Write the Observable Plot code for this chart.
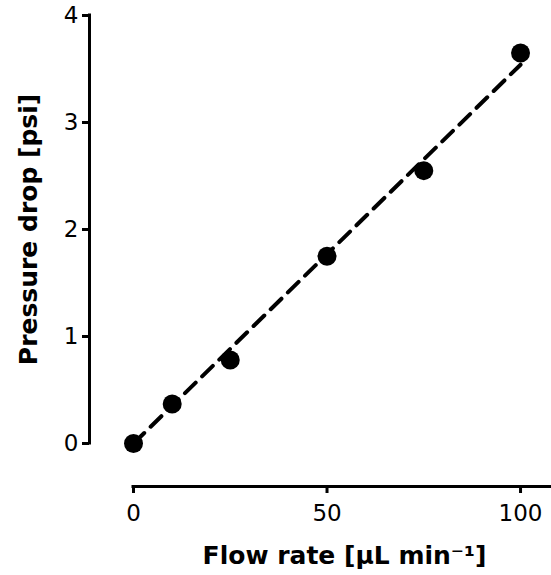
<!DOCTYPE html>
<html><head><meta charset="utf-8">
<script src="https://cdn.jsdelivr.net/npm/d3@7"></script>
<script src="https://cdn.jsdelivr.net/npm/@observablehq/plot@0.6"></script>
<style>body{margin:0;background:#fff} svg{display:block}</style>
</head><body><div id="chart"></div>
<script>
const flowRate = [0, 10, 25, 50, 75, 100];
const pressureDrop = [0, 0.37, 0.78, 1.75, 2.55, 3.65];
const fitFlow = [0, 100];
const fitPressure = [0, 3.54];
const xTicks = [0, 50, 100];
const yTicks = [0, 1, 2, 3, 4];
const xDomain = [0, 108];
const yDomain = [0, 4];
const xLabel = "Flow rate [µL min⁻¹]";
const yLabel = "Pressure drop [psi]";

const points = flowRate.map((x, i) => ({x, y: pressureDrop[i]}));
const fit = fitFlow.map((x, i) => ({x, y: fitPressure[i]}));

const font = "'DejaVu Sans', sans-serif";
const plot = Plot.plot({
  width: 551, height: 575,
  marginLeft: 133, marginRight: 0, marginTop: 15, marginBottom: 132,
  style: {fontFamily: font, fontSize: "23px", color: "#000", background: "#fff", overflow: "visible"},
  x: {domain: xDomain},
  y: {domain: yDomain},
  marks: [
    Plot.ruleX([xTicks[0]], {y1: yTicks[0], y2: yTicks[yTicks.length - 1], dx: -44, strokeWidth: 3, strokeLinecap: "square"}),
    Plot.axisY({ticks: yTicks, tickSize: 7, tickPadding: 4, dx: -44, strokeWidth: 3, label: null, tickFormat: d => String(d), fontSize: 23}),
    Plot.ruleY([yTicks[0]], {dy: 43, strokeWidth: 3, strokeLinecap: "square"}),
    Plot.axisX({ticks: xTicks, tickSize: 7, tickPadding: 11, dy: 43, strokeWidth: 3, label: null, tickFormat: d => String(d), fontSize: 23}),
    Plot.line(fit, {x: "x", y: "y", stroke: "#000", strokeWidth: 4, strokeDasharray: "15,9"}),
    Plot.dot(points, {x: "x", y: "y", r: 9.5, fill: "#000"}),
    Plot.text([yLabel], {text: d => d, frameAnchor: "left", textAnchor: "middle", lineAnchor: "middle", dx: -104.5, rotate: -90, fontWeight: "bold", fontSize: 25, fill: "#000"}),
    Plot.text([xLabel], {text: d => d, frameAnchor: "bottom", textAnchor: "middle", lineAnchor: "middle", dx: 2, dy: 112, fontWeight: "bold", fontSize: 25, fill: "#000"})
  ]
});
document.getElementById("chart").appendChild(plot);
</script>
</body></html>
